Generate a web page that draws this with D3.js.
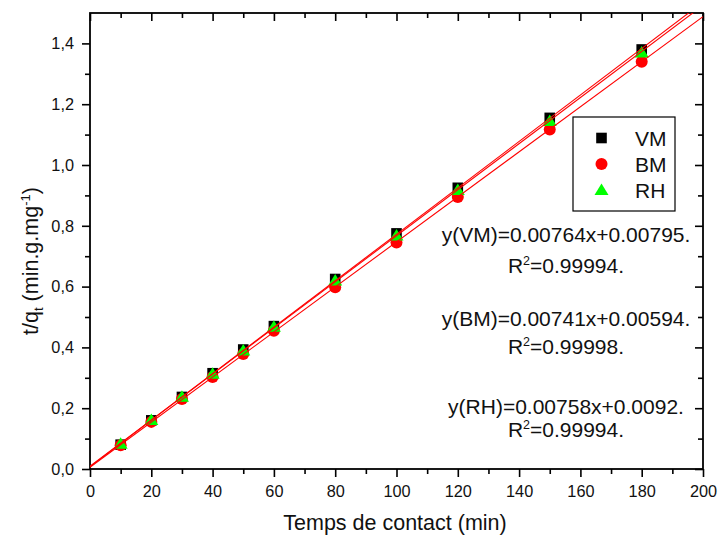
<!DOCTYPE html>
<html><head><meta charset="utf-8">
<script src="https://cdn.jsdelivr.net/npm/d3@7"></script>
<style>body{margin:0;background:#fff;} text{font-family:"Liberation Sans",Arial,sans-serif;}</style>
</head><body>
<svg id="c" width="718" height="535"></svg>
<script>
const times = [10,20,30,40,50,60,80,100,120,150,180];
const vm = [0.080,0.160,0.237,0.315,0.393,0.470,0.625,0.775,0.925,1.155,1.380];
const bm = [0.078,0.155,0.230,0.303,0.378,0.455,0.598,0.745,0.895,1.117,1.340];
const rh = [0.083,0.161,0.238,0.313,0.390,0.468,0.620,0.768,0.918,1.145,1.370];
const fits = [
  {name:"VM", slope:0.00764, intercept:0.00795, eq:"y(VM)=0.00764x+0.00795.", r2:"=0.99994."},
  {name:"BM", slope:0.00741, intercept:0.00594, eq:"y(BM)=0.00741x+0.00594.", r2:"=0.99998."},
  {name:"RH", slope:0.00758, intercept:0.0092, eq:"y(RH)=0.00758x+0.0092.", r2:"=0.99994."}
];
const xTicks = [0,20,40,60,80,100,120,140,160,180,200];
const yTicks = [0,0.2,0.4,0.6,0.8,1.0,1.2,1.4];
const legendNames = ["VM","BM","RH"];

const svg = d3.select("#c");
const L=90,R=703,T=13,B=469;
const x = d3.scaleLinear().domain([0,200]).range([L,R]);
const y = d3.scaleLinear().domain([0,1.5]).range([B,T]);
const fmt = d => d3.format(".1f")(d).replace(".",",");
const FONT = "Liberation Sans, Arial, sans-serif";
const xMinor = d3.range(10,200,20), yMinor = d3.range(0.1,1.5,0.2);

svg.append("defs").append("clipPath").attr("id","clip")
  .append("rect").attr("x",L).attr("y",T).attr("width",R-L).attr("height",B-T);

// axes
const gx = svg.append("g").attr("transform",`translate(0,${B})`)
  .call(d3.axisBottom(x).tickValues(xTicks).tickSize(8).tickPadding(8).tickFormat(d3.format("d")));
const gxm = svg.append("g").attr("transform",`translate(0,${B})`)
  .call(d3.axisBottom(x).tickValues(xMinor).tickSize(5).tickFormat(""));
const gy = svg.append("g").attr("transform",`translate(${L},0)`)
  .call(d3.axisLeft(y).tickValues(yTicks).tickSize(8).tickPadding(8).tickFormat(fmt));
const gym = svg.append("g").attr("transform",`translate(${L},0)`)
  .call(d3.axisLeft(y).tickValues(yMinor).tickSize(5).tickFormat(""));
const gt = svg.append("g").attr("transform",`translate(0,${T})`)
  .call(d3.axisBottom(x).tickValues(xTicks).tickSize(8).tickFormat(""));
const gtm = svg.append("g").attr("transform",`translate(0,${T})`)
  .call(d3.axisBottom(x).tickValues(xMinor).tickSize(5).tickFormat(""));
const gr = svg.append("g").attr("transform",`translate(${R},0)`)
  .call(d3.axisLeft(y).tickValues(yTicks).tickSize(8).tickFormat(""));
const grm = svg.append("g").attr("transform",`translate(${R},0)`)
  .call(d3.axisLeft(y).tickValues(yMinor).tickSize(5).tickFormat(""));
[gx,gxm,gy,gym,gt,gtm,gr,grm].forEach(g=>{
  g.selectAll(".domain").remove();
  g.selectAll("line").attr("stroke","#000").attr("stroke-width",1.6);
  g.selectAll("text").attr("fill","#111").style("font-size","16.3px").style("font-family",FONT);
});
svg.append("rect").attr("x",L).attr("y",T).attr("width",R-L).attr("height",B-T)
  .attr("fill","none").attr("stroke","#000").attr("stroke-width",1.8);

// markers
const triPath = "M0,-6.5L7,5L-7,5Z";
const mk = svg.append("g");
mk.selectAll(".sq").data(times).enter().append("rect")
  .attr("x",d=>x(d)-5.3).attr("y",(d,i)=>y(vm[i])-5.3).attr("width",10.6).attr("height",10.6).attr("fill","#000");
mk.selectAll(".ci").data(times).enter().append("circle")
  .attr("cx",d=>x(d)).attr("cy",(d,i)=>y(bm[i])).attr("r",6).attr("fill","#ff0000");
mk.selectAll(".tr").data(times).enter().append("path")
  .attr("d",triPath).attr("transform",(d,i)=>`translate(${x(d)},${y(rh[i])})`).attr("fill","#00ff00");

// fit lines
const plot = svg.append("g").attr("clip-path","url(#clip)");
fits.forEach(f=>{
  plot.append("line").attr("x1",x(0)).attr("y1",y(f.intercept))
    .attr("x2",x(200)).attr("y2",y(f.intercept+f.slope*200))
    .attr("stroke","#ff0000").attr("stroke-width",1.1);
});

// legend
const lg = svg.append("g");
lg.append("rect").attr("x",573).attr("y",117).attr("width",102).attr("height",94)
  .attr("fill","#fff").attr("stroke","#000").attr("stroke-width",1.2);
const lgy = [138,164,190];
lg.append("rect").attr("x",601.5-5.3).attr("y",lgy[0]-5.3).attr("width",10.6).attr("height",10.6).attr("fill","#000");
lg.append("circle").attr("cx",601.5).attr("cy",lgy[1]).attr("r",6).attr("fill","#ff0000");
lg.append("path").attr("d",triPath).attr("transform",`translate(601.5,${lgy[2]})`).attr("fill","#00ff00");
legendNames.forEach((n,i)=>{
  lg.append("text").attr("x",635).attr("y",lgy[i]+7.5).text(n).style("font-size","21px").attr("fill","#111");
});

// equations
const eqY = [[242,273],[326,354],[414,437]];
fits.forEach((f,i)=>{
  svg.append("text").attr("x",566).attr("y",eqY[i][0]).attr("text-anchor","middle")
    .style("font-size","21px").attr("fill","#111").text(f.eq);
  const t = svg.append("text").attr("x",566).attr("y",eqY[i][1]).attr("text-anchor","middle")
    .style("font-size","21px").attr("fill","#111");
  t.append("tspan").text("R");
  t.append("tspan").attr("dy",-8).style("font-size","12.5px").text("2");
  t.append("tspan").attr("dy",8).text(f.r2);
});

// axis titles
svg.append("text").attr("x",395).attr("y",530).attr("text-anchor","middle")
  .style("font-size","21.5px").attr("fill","#111").text("Temps de contact (min)");
const yl = svg.append("text").attr("transform","translate(38,261) rotate(-90)").attr("text-anchor","middle")
  .style("font-size","21.5px").attr("fill","#111");
yl.append("tspan").text("t/q");
yl.append("tspan").attr("dy",5).style("font-size","13px").text("t");
yl.append("tspan").attr("dy",-5).text(" (min.g.mg");
yl.append("tspan").attr("dy",-8).style("font-size","13px").text("-1");
yl.append("tspan").attr("dy",8).text(")");
</script>
</body></html>
